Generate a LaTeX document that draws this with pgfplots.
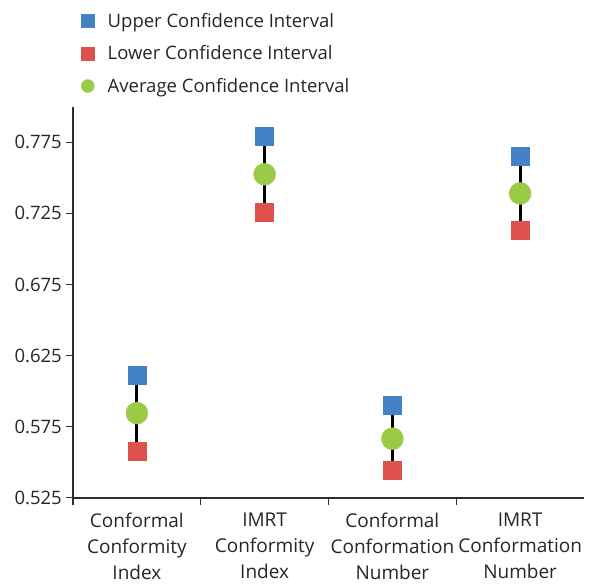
\documentclass[border=0pt]{standalone}
\usepackage{fontspec}
\setmainfont{Open Sans}
\usepackage{pgfplots}
\pgfplotsset{compat=1.18}
\definecolor{cblue}{RGB}{68,130,200}
\definecolor{cred}{RGB}{222,80,76}
\definecolor{cgreen}{RGB}{155,202,70}
\definecolor{axcol}{RGB}{45,45,45}
\begin{document}
\begin{tikzpicture}
\begin{axis}[name=ax, scale only axis, width=511pt, height=391pt,
  xmin=0, xmax=4, ymin=0.525, ymax=0.80,
  axis x line*=bottom, axis y line*=left,
  axis line style={line width=1.6pt, color=axcol},
  tick style={line width=1.4pt, color=axcol},
  tick align=outside, major tick length=7pt,
  xtick={0,1,2,3}, xticklabels={,,,},
  extra x ticks={0.5,1.5,2.5,3.5},
  extra x tick labels={Conformal\\Conformity\\Index, IMRT\\Conformity\\Index, Conformal\\Conformation\\Number, IMRT\\Conformation\\Number},
  extra x tick style={major tick length=0pt},
  xticklabel style={align=center, font=\fontsize{19}{26}\selectfont, text=black!85, inner sep=0pt, yshift=-15pt},
  ytick={0.525,0.575,0.625,0.675,0.725,0.775},
  yticklabel style={/pgf/number format/fixed, /pgf/number format/fixed zerofill, /pgf/number format/precision=3, /pgf/number format/assume math mode=true,
    font=\fontsize{18.5}{22}\selectfont, text=black!85, inner sep=0pt, xshift=-4pt},
  legend style={at={(axis description cs:0,1)}, anchor=north west, xshift=5pt, yshift=98pt,
    draw=none, fill=none, row sep=13pt, font=\fontsize{18.5}{22}\selectfont, text=black!85},
  legend cell align=left,
  legend image code/.code={\draw[#1, mark size=6.5pt] plot coordinates {(6pt,0pt)}; \path[draw=none] (0pt,0pt) -- (24pt,0pt);},
  clip=false,
]
\addplot[black, line width=3pt, forget plot] coordinates {(0.5,0.611) (0.5,0.558)};
\addplot[black, line width=3pt, forget plot] coordinates {(1.5,0.779) (1.5,0.726)};
\addplot[black, line width=3pt, forget plot] coordinates {(2.5,0.590) (2.5,0.544)};
\addplot[black, line width=3pt, forget plot] coordinates {(3.5,0.765) (3.5,0.713)};
\addplot[only marks, mark=square*, mark size=9pt, color=cblue]
  coordinates {(0.5,0.611) (1.5,0.779) (2.5,0.590) (3.5,0.765)};
\addlegendentry{Upper Confidence Interval}
\addplot[only marks, mark=square*, mark size=9pt, color=cred]
  coordinates {(0.5,0.558) (1.5,0.726) (2.5,0.544) (3.5,0.713)};
\addlegendentry{Lower Confidence Interval}
\addplot[only marks, mark=*, mark size=11pt, color=cgreen]
  coordinates {(0.5,0.5845) (1.5,0.7525) (2.5,0.5665) (3.5,0.739)};
\addlegendentry{Average Confidence Interval}
\end{axis}
\pgfresetboundingbox
\path (ax.south west) ++(-73pt,-86.3pt) rectangle ++(609pt,584pt);
\end{tikzpicture}
\end{document}
